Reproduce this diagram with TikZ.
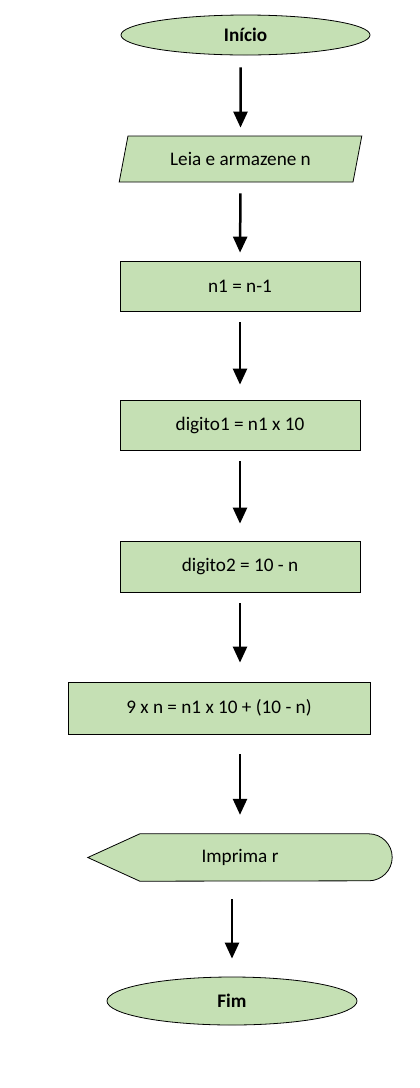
\documentclass[tikz,border=0pt]{standalone}
\usepackage{fontspec}
\setmainfont{Carlito}
\usetikzlibrary{shapes.geometric,arrows.meta}
\definecolor{verdeclaro}{HTML}{C5E0B4}
\tikzset{
  bloco/.style={draw=black,line width=0.8pt,fill=verdeclaro,font=\fontsize{19.2}{23}\selectfont},
  inicfim/.style={bloco,ellipse,font=\fontsize{19.2}{23}\selectfont\bfseries},
  entrada/.style={bloco,trapezium,trapezium left angle=74,trapezium right angle=106,trapezium stretches=true},
  processo/.style={bloco,rectangle},
  seta/.style={line width=2.5pt,-{Triangle[length=16pt,width=14pt]}}
}
\begin{document}
\begin{tikzpicture}[x=1pt,y=1pt]
  \useasboundingbox (0,0) rectangle (420,-1088);
  % blocos
  \node[inicfim,minimum width=249pt,minimum height=40pt] (inicio) at (245.5,-35) {Início};
  \node[entrada,minimum width=243pt,minimum height=46pt] (leia) at (240.5,-159) {Leia e armazene n};
  \node[processo,minimum width=240pt,minimum height=50pt] (n1) at (240,-286) {n1 = n-1};
  \node[processo,minimum width=240pt,minimum height=50pt] (dig1) at (240,-425) {digito1 = n1 x 10};
  \node[processo,minimum width=240pt,minimum height=51pt] (dig2) at (240,-566.5) {digito2 = 10 - n};
  \node[processo,minimum width=302pt,minimum height=52pt] (nove) at (219,-708) {9 x n = n1 x 10 + (10 - n)};
  \node[minimum width=304pt,minimum height=47pt] (imprima) at (240,-857.5) {};
  \draw[bloco] (imprima.west) -- ([xshift=52pt]imprima.north west)
    -- ([xshift=-23.5pt]imprima.north east) arc[start angle=90,end angle=-90,radius=23.5pt]
    -- ([xshift=52pt]imprima.south west) -- cycle;
  \node[font=\fontsize{19.2}{23}\selectfont] at (imprima) {Imprima r};
  \node[inicfim,minimum width=250pt,minimum height=48pt] (fim) at (232,-1001) {Fim};
  % setas
  \draw[seta,shorten <=12pt,shorten >=8pt] (inicio.south -| leia) -- (leia.north);
  \draw[seta,shorten <=11pt,shorten >=8pt] (leia.south) -- (n1.north);
  \draw[seta,shorten <=11pt,shorten >=15pt] (n1.south) -- (dig1.north);
  \draw[seta,shorten <=11pt,shorten >=17pt] (dig1.south) -- (dig2.north);
  \draw[seta,shorten <=11pt,shorten >=19pt] (dig2.south) -- (nove.north -| dig2);
  \draw[seta,shorten <=20pt,shorten >=19pt] (nove.south -| dig2) -- (imprima.north -| dig2);
  \draw[seta,shorten <=18pt,shorten >=18pt] (imprima.south -| fim) -- (fim.north);
\end{tikzpicture}
\end{document}
